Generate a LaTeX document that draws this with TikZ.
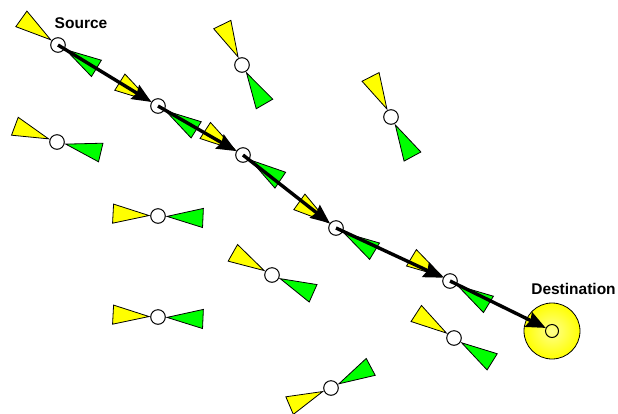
\documentclass[tikz,border=0pt]{standalone}
\usepackage{fontspec}
\setmainfont{Liberation Sans}
\usepackage{tikz}
\usetikzlibrary{arrows.meta, positioning, calc}

% one beam of a station: apex near the station, base further out
\newcommand{\beam}[3]{%
    \filldraw[beamline, fill=#3] ($(#1)+(#2:9)$) -- ($(#1)+(#2+12:46)$) -- ($(#1)+(#2-12:46)$) -- cycle;}
% a station with its two beams (yellow, green)
\newcommand{\beams}[3]{\beam{#1}{#2}{beamyellow}\beam{#1}{#3}{beamgreen}}

\definecolor{beamyellow}{RGB}{255,255,0}
\definecolor{beamgreen}{RGB}{0,255,0}

\begin{document}
\begin{tikzpicture}[
    x=1pt, y=1pt,
    station/.style={draw, circle, fill=white, line width=1pt, minimum size=14.6pt, inner sep=0pt},
    beamline/.style={draw=black, line width=0.8pt, line join=miter},
    label/.style={font=\bfseries\fontsize{15.5}{18}\selectfont, inner sep=0pt},
    hop/.style={-{Stealth[length=19pt, width=16pt, inset=2pt]}, line width=3.4pt}
]
    \useasboundingbox (0,0) rectangle (618,-413);

    % route stations
    \node[station] (src) at (58,-45) {};
    \node[station] (hop1) at (158,-106) {};
    \node[station] (hop2) at (243,-155) {};
    \node[station] (hop3) at (336,-228) {};
    \node[station] (hop4) at (450,-281) {};

    % other stations
    \node[station] (idleA) at (242,-65) {};
    \node[station] (idleB) at (391,-117) {};
    \node[station] (idleC) at (57,-142) {};
    \node[station] (idleD) at (158,-216) {};
    \node[station] (idleE) at (158,-317) {};
    \node[station] (idleF) at (272,-275) {};
    \node[station] (idleG) at (331,-388) {};
    \node[station] (idleH) at (454,-338) {};

    % destination
    \node[draw, circle, line width=0.8pt, minimum size=56pt, inner sep=0pt,
          inner color=beamyellow!45!white, outer color=beamyellow] (dstzone) at (552,-331) {};
    \node[draw, circle, line width=1pt, minimum size=13pt, inner sep=0pt] (dst) at (552,-331) {};

    \beams{src}{144.5}{-31.3}
    \beams{hop1}{148}{-32}
    \beams{hop2}{147}{-34}
    \beams{hop3}{144.5}{-31}
    \beams{hop4}{149}{-31.3}
    \beams{idleA}{116}{-60}
    \beams{idleB}{117}{-61.5}
    \beams{idleC}{159.5}{-13.5}
    \beams{idleD}{177}{-2.5}
    \beams{idleE}{177}{-2.5}
    \beams{idleF}{150.5}{-24}
    \beams{idleG}{203}{28}
    \beams{idleH}{147}{-32}

    \node[label] (srclabel) at (81,-23.5) {Source};
    \node[label] (dstlabel) at (573.5,-289) {Destination};

    \draw[hop] (src.center) -- (hop1);
    \draw[hop] (hop1.center) -- (hop2);
    \draw[hop] (hop2.center) -- (hop3);
    \draw[hop] (hop3.center) -- (hop4);
    \draw[hop] (hop4.center) -- (dst);
\end{tikzpicture}
\end{document}
